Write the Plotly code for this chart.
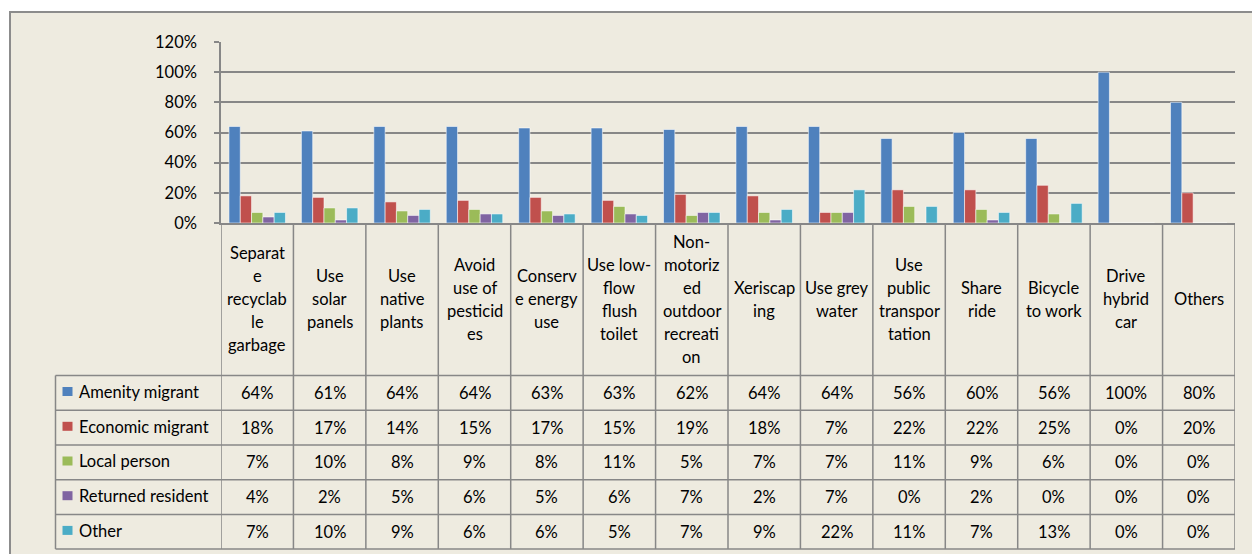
import plotly.graph_objects as go

categories = [
    "Separat<br>e<br>recyclab<br>le<br>garbage",
    "Use<br>solar<br>panels",
    "Use<br>native<br>plants",
    "Avoid<br>use of<br>pesticid<br>es",
    "Conserv<br>e energy<br>use",
    "Use low-<br>flow<br>flush<br>toilet",
    "Non-<br>motoriz<br>ed<br>outdoor<br>recreati<br>on",
    "Xeriscap<br>ing",
    "Use grey<br>water",
    "Use<br>public<br>transpor<br>tation",
    "Share<br>ride",
    "Bicycle<br>to work",
    "Drive<br>hybrid<br>car",
    "Others",
]
series_names = ["Amenity migrant", "Economic migrant", "Local person", "Returned resident", "Other"]
amenity = [64, 61, 64, 64, 63, 63, 62, 64, 64, 56, 60, 56, 100, 80]
economic = [18, 17, 14, 15, 17, 15, 19, 18, 7, 22, 22, 25, 0, 20]
local = [7, 10, 8, 9, 8, 11, 5, 7, 7, 11, 9, 6, 0, 0]
returned = [4, 2, 5, 6, 5, 6, 7, 2, 7, 0, 2, 0, 0, 0]
other = [7, 10, 9, 6, 6, 5, 7, 9, 22, 11, 7, 13, 0, 0]
series_values = [amenity, economic, local, returned, other]
colors = ["#4F81BD", "#C0504D", "#9BBB59", "#8064A2", "#4BACC6"]
y_ticks = [0, 20, 40, 60, 80, 100, 120]

W, H = 1252, 554
FONT = "Lato"
FS = 16.5
TXT = "#000000"
GRID = "#878787"
BG = "#EEEBE0"


def px(x):
    return x / W


def py(y):
    return 1 - y / H


x_keys = list(range(len(categories)))

fig = go.Figure()
for name, vals, col in zip(series_names, series_values, colors):
    fig.add_trace(go.Bar(
        x=x_keys, y=[v / 100 for v in vals], name=name,
        marker=dict(color=col, line=dict(color="rgba(255,255,255,0.55)", width=1)),
        showlegend=False, hoverinfo="y+name",
    ))

shapes = []
shapes.append(dict(type="rect", xref="paper", yref="paper", x0=px(10), x1=px(1280),
                   y0=py(590), y1=py(12), fillcolor=BG, line=dict(color="#8C8C8C", width=2),
                   layer="below"))

head_top = 223
row_edges = [375.5, 410.3, 445.0, 479.7, 514.4, 549.0]
legend_left = 55.5
table_right = 1235

n = len(categories)
for i in range(n + 1):
    shapes.append(dict(type="line", xref="x", yref="paper", x0=i - 0.5, x1=i - 0.5,
                       y0=py(549), y1=py(head_top), line=dict(color=GRID, width=1.5)))
shapes.append(dict(type="line", xref="paper", yref="paper", x0=px(legend_left), x1=px(legend_left),
                   y0=py(549), y1=py(375.5), line=dict(color=GRID, width=1.5)))
for ry in row_edges:
    shapes.append(dict(type="line", xref="paper", yref="paper", x0=px(legend_left), x1=px(table_right),
                       y0=py(ry), y1=py(ry), line=dict(color=GRID, width=1.5)))

annotations = []
line_gap = 23
for i, cat in enumerate(categories):
    lines = cat.split("<br>")
    k = len(lines)
    for j, ln in enumerate(lines):
        yc = 299 + (j - (k - 1) / 2) * line_gap
        annotations.append(dict(x=i, xref="x", y=py(yc), yref="paper", text=ln, showarrow=False,
                                xanchor="center", yanchor="middle",
                                font=dict(family=FONT, size=FS, color=TXT)))

for r, (name, vals, col) in enumerate(zip(series_names, series_values, colors)):
    top, bot = row_edges[r], row_edges[r + 1]
    yc = (top + bot) / 2 - 1
    shapes.append(dict(type="rect", xref="paper", yref="paper", x0=px(62.5), x1=px(72.5),
                       y0=py(top + 20.5), y1=py(top + 11.5), fillcolor=col, line=dict(width=0)))
    annotations.append(dict(x=px(77), xref="paper", y=py(yc), yref="paper", text=name,
                            showarrow=False, xanchor="left", yanchor="middle",
                            font=dict(family=FONT, size=FS, color=TXT)))
    for i, v in enumerate(vals):
        annotations.append(dict(x=i, xref="x", y=py(yc + 1), yref="paper", text=f"{v}%",
                                showarrow=False, xanchor="center", yanchor="middle",
                                font=dict(family=FONT, size=FS, color=TXT)))

fig.update_layout(
    template="none",
    width=W, height=H,
    autosize=False,
    margin=dict(l=0, r=0, t=0, b=0, pad=0, autoexpand=False),
    paper_bgcolor="white",
    plot_bgcolor="white",
    barmode="group",
    bargap=0.22,
    bargroupgap=0,
    xaxis=dict(domain=[px(221), px(1235)], range=[-0.5, n - 0.5], showticklabels=False,
               showgrid=False, zeroline=False, showline=True, linecolor=GRID, linewidth=1.5,
               ticks="", fixedrange=True, automargin=False),
    yaxis=dict(domain=[py(223), py(42)], range=[0, 1.2], tickvals=[t / 100 for t in y_ticks],
               ticktext=[f"{t}%" for t in y_ticks], showgrid=True, gridcolor=GRID, gridwidth=1.5,
               zeroline=False, showline=True, linecolor=GRID, linewidth=1.5, ticks="outside",
               ticklen=5, tickcolor=GRID, tickwidth=1.5, ticklabelstandoff=14,
               tickfont=dict(family=FONT, size=FS, color=TXT), fixedrange=True, automargin=False),
    shapes=shapes,
    annotations=annotations,
    font=dict(family=FONT),
)

fig.write_html(
    "out.html",
    config={"displayModeBar": False},
    post_script="document.body.style.margin='0';document.body.style.padding='0';"
                "document.body.style.overflow='hidden';",
)
